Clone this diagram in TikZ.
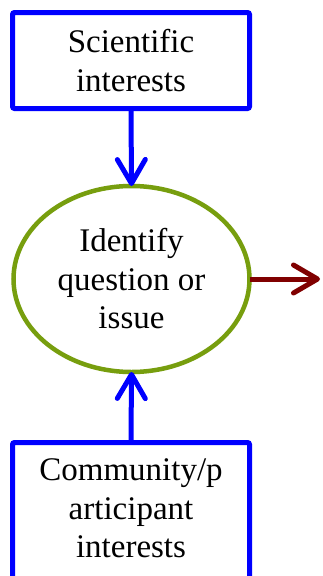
\documentclass[tikz,border=0pt]{standalone}
\usepackage{fontspec}
\setmainfont{Liberation Serif}
\usetikzlibrary{shapes.geometric,arrows.meta}
\definecolor{boxblue}{RGB}{0,0,255}
\definecolor{ovalgreen}{RGB}{119,158,14}
\definecolor{outred}{RGB}{128,0,0}
\tikzset{
  inbox/.style={draw=boxblue, line width=5pt, rectangle, rounded corners=2pt, fill=white,
    align=center, outer sep=0pt, inner sep=0pt, minimum width=237pt,
    font=\fontsize{33}{38.5}\selectfont},
  oval/.style={draw=ovalgreen, line width=4.5pt, ellipse, fill=white, align=center,
    outer sep=0pt, inner sep=0pt, minimum width=236pt, minimum height=186pt,
    font=\fontsize{33}{38.5}\selectfont},
  feed/.style={line width=5pt, -{Straight Barb[length=24pt,width=28pt,line cap=round,line join=round]}}
}
\begin{document}
\begin{tikzpicture}[x=1pt,y=-1pt]
\clip (0,0) rectangle (323,576);
\fill[white] (0,0) rectangle (323,576);
\node[inbox, minimum height=96pt] (sci) at (131,60.5) {Scientific\\interests};
\node[oval] (iq) at (131.5,279) {Identify\\question or\\issue};
\node[inbox, anchor=north, inner ysep=16.5pt, text depth=60pt] (com) at (131,442.5) {Community/p\\articipant\\interests};
\coordinate (out) at (320,279);
\draw[feed, draw=boxblue] (sci.south) -- (iq.north);
\draw[feed, draw=boxblue] (com.north) -- (iq.south);
\draw[feed, draw=outred] (iq.east) -- (out);
\end{tikzpicture}
\end{document}
